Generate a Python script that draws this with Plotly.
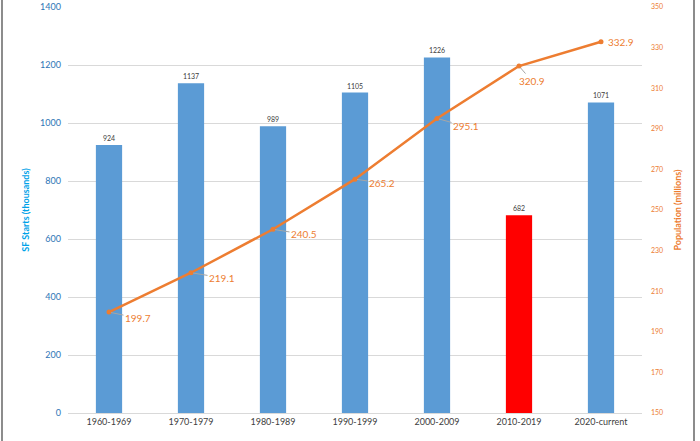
import plotly.graph_objects as go

# ---- data ----
decades = ["1960-1969", "1970-1979", "1980-1989", "1990-1999", "2000-2009", "2010-2019", "2020-current"]
sf_starts = [924, 1137, 989, 1105, 1226, 682, 1071]
population = [199.7, 219.1, 240.5, 265.2, 295.1, 320.9, 332.9]
left_ticks = [0, 200, 400, 600, 800, 1000, 1200, 1400]
right_ticks = [150, 170, 190, 210, 230, 250, 270, 290, 310, 330, 350]

# ---- styling ----
BLUE = "#5B9BD5"
RED = "#FF0000"
ORANGE = "#ED7D31"
FONT = "Lato, Liberation Sans, sans-serif"
bar_colors = [RED if d == "2010-2019" else BLUE for d in decades]
# pixel offsets (text centre relative to point) for the population labels
label_offsets = [(29, 6), (31, 5), (31, 5), (27, 4), (29, 8), (13, 15), (20, 0)]

fig = go.Figure()
fig.add_trace(go.Bar(
    x=decades, y=sf_starts, marker=dict(color=bar_colors, line=dict(width=0)),
    text=[str(v) for v in sf_starts], textposition="outside", cliponaxis=False,
    textfont=dict(size=7, color="#404040", family=FONT), width=0.32,
    name="SF Starts", yaxis="y",
))
fig.add_trace(go.Scatter(
    x=decades, y=population, mode="lines+markers", yaxis="y2",
    line=dict(color=ORANGE, width=2.5), marker=dict(color=ORANGE, size=5),
    name="Population",
))

annotations = []
for i, (d, p, (ox, oy)) in enumerate(zip(decades, population, label_offsets)):
    annotations.append(dict(
        x=d, y=p, xref="x", yref="y2", text=f"{p:.1f}",
        showarrow=True, arrowhead=0, arrowwidth=1,
        arrowcolor="#A6A6A6" if i < len(decades) - 1 else "rgba(0,0,0,0)",
        ax=ox, ay=oy, standoff=2,
        font=dict(size=10, color=ORANGE, family=FONT),
    ))

fig.update_layout(
    width=700, height=441,
    margin=dict(l=68, r=58, t=7, b=28),
    paper_bgcolor="white", plot_bgcolor="white",
    showlegend=False,
    font=dict(family=FONT),
    bargap=0.68,
    xaxis=dict(
        type="category", tickfont=dict(size=9, color="#404040", family=FONT),
        showline=True, linecolor="#D9D9D9", linewidth=1, ticks="", showgrid=False,
        automargin=False,
    ),
    yaxis=dict(
        range=[0, 1400], tickvals=left_ticks, showgrid=True, gridcolor="#D9D9D9", gridwidth=1,
        tickfont=dict(size=9, color="#2E75B6", family=FONT), zeroline=False,
        title=dict(text="<b>SF Starts (thousands)</b>", font=dict(size=9, color="#00A2E8", family=FONT), standoff=8),
        ticklabelstandoff=6, automargin=False, ticklabeloverflow="allow",
    ),
    yaxis2=dict(
        range=[150, 350], tickvals=right_ticks, overlaying="y", side="right", showgrid=False,
        tickfont=dict(size=7, color=ORANGE, family=FONT), zeroline=False,
        title=dict(text="<b>Population (millions)</b>", font=dict(size=9, color=ORANGE, family=FONT), standoff=12),
        ticklabelstandoff=8, automargin=False, ticklabeloverflow="allow",
    ),
    annotations=annotations,
    shapes=[
        dict(type="line", xref="paper", yref="paper", x0=-0.1150, x1=-0.1150, y0=-0.07, y1=1.02,
             line=dict(color="#8C8C8C", width=2)),
        dict(type="line", xref="paper", yref="paper", x0=1.0906, x1=1.0906, y0=-0.07, y1=1.02,
             line=dict(color="#8C8C8C", width=2)),
    ],
)

fig.write_html("out.html", config={"displayModeBar": False},
               post_script="document.body.style.margin='0';")
